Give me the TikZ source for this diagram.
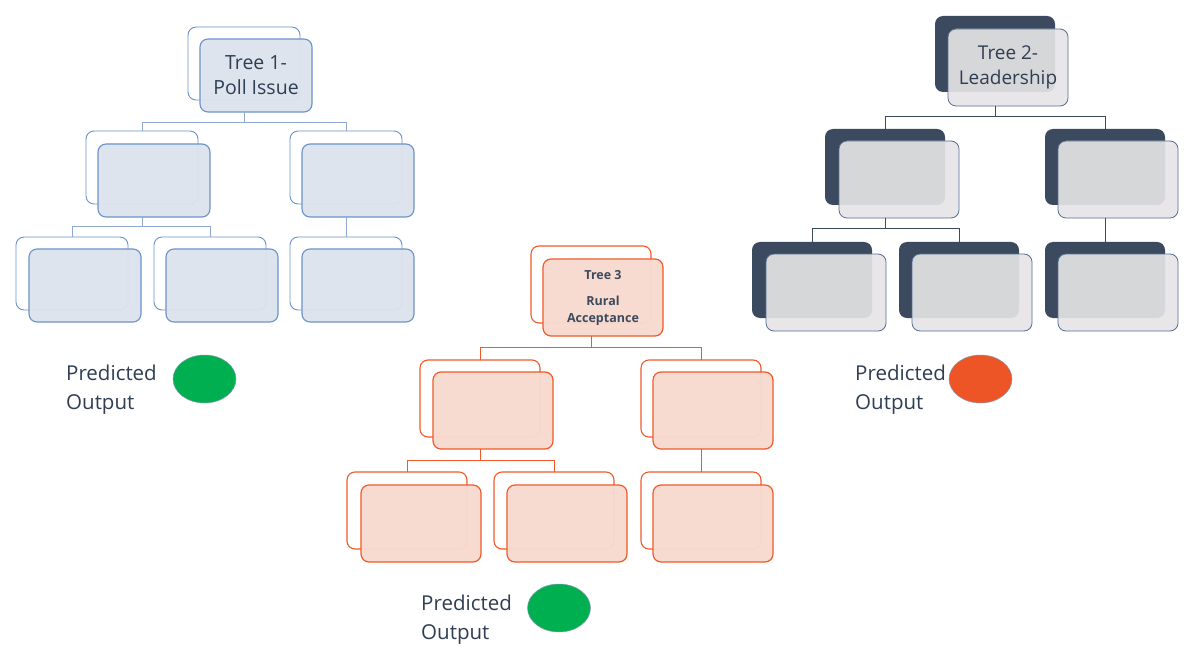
\documentclass[tikz,border=0pt]{standalone}
\usepackage{fontspec}
\setmainfont{Open Sans}
\usetikzlibrary{shapes.geometric}
\definecolor{txt}{HTML}{2F3E52}
\definecolor{oneblue}{HTML}{6A93C9}
\definecolor{onefill}{HTML}{DCE3ED}
\definecolor{onecon}{HTML}{8FAAD2}
\definecolor{threeor}{HTML}{F05A28}
\definecolor{threefill}{HTML}{F8DACF}
\definecolor{twodark}{HTML}{3B4A5E}
\definecolor{twolight}{HTML}{E8E6E9}
\definecolor{twomid}{HTML}{D6D7D9}
\definecolor{twoedge}{HTML}{556E92}
\definecolor{okgreen}{HTML}{00B050}
\definecolor{badorange}{HTML}{EE5526}
\newcommand{\BoxPair}[5]{%
  \node[#1back] (#2b) at (#3) {};
  \node[#1front] (#2f) at (#4) {#5};}
\newcommand{\TwoPair}[3]{%
  \node[twoback] (#1b) at (#2) {};
  \node[twofront] (#1f) at (#3) {};
  \begin{scope}
    \clip[rounded corners=8pt] (#1b.north west) rectangle (#1b.south east);
    \fill[twomid, rounded corners=8pt] (#1f.north west) rectangle (#1f.south east);
  \end{scope}
  \draw[twoedge, line width=0.8pt, rounded corners=8pt] (#1f.north west) rectangle (#1f.south east);}
\tikzset{
  base box/.style={rectangle, rounded corners=8pt, anchor=north west, inner sep=0pt, outer sep=0pt},
  oneback/.style={base box, draw=oneblue, fill=white, line width=0.9pt, minimum width=112pt, minimum height=73pt},
  onefront/.style={base box, draw=oneblue, fill=onefill, fill opacity=0.96, text opacity=1, line width=1.1pt, minimum width=112pt, minimum height=73pt, text=txt, align=center, font=\fontsize{19.5}{25}\selectfont},
  threeback/.style={base box, draw=threeor, fill=white, line width=1.1pt, minimum width=120pt, minimum height=77pt},
  threefront/.style={base box, draw=threeor, fill=threefill, fill opacity=0.97, text opacity=1, line width=1.2pt, minimum width=120pt, minimum height=77pt, text=twodark, align=center, font=\bfseries\fontsize{12.5}{17}\selectfont},
  twoback/.style={base box, fill=twodark, minimum width=120pt, minimum height=76pt},
  twofront/.style={base box, fill=twolight, minimum width=120pt, minimum height=77pt},
  twotext/.style={text=txt, align=center, font=\fontsize{19}{25}\selectfont},
  onecon/.style={draw=onecon, line width=1pt},
  threecon/.style={draw=threeor, line width=1pt},
  twocon/.style={draw=twodark, line width=1pt},
  predlabel/.style={anchor=north west, inner sep=0pt, align=left, text=txt, font=\fontsize{20.5}{29}\selectfont},
  dot/.style={ellipse, minimum width=63pt, minimum height=48pt, inner sep=0pt, draw=twoedge!70, line width=0.5pt},
}
\begin{document}
\begin{tikzpicture}[x=1pt,y=-1pt]
\fill[white] (0,0) rectangle (1198,660);
\useasboundingbox (0,0) rectangle (1198,660);

% ---------------- Tree 1 ----------------
\BoxPair{one}{r1}{188,27}{200,39}{Tree 1-\\Poll Issue}
\BoxPair{one}{a1}{86,131}{98,144}{}
\BoxPair{one}{c1}{290,131}{302,144}{}
\BoxPair{one}{d1}{16,237}{29,249}{}
\BoxPair{one}{e1}{154,237}{166,249}{}
\BoxPair{one}{f1}{290,237}{302,249}{}
\draw[onecon] (r1b.south |- r1f.south) -- ++(0,11) -| (a1b.north);
\draw[onecon] (r1b.south |- r1f.south) -- ++(0,11) -| (c1b.north);
\draw[onecon] (a1b.south |- a1f.south) -- ++(0,10) -| (d1b.north);
\draw[onecon] (a1b.south |- a1f.south) -- ++(0,10) -| (e1b.north);
\draw[onecon] (c1b.south |- c1f.south) -- (f1b.north);

% ---------------- Tree 2 ----------------
\TwoPair{r2}{935,16}{948,29}
\node[twotext] (r2t) at (r2f.center) {Tree 2-\\Leadership};
\TwoPair{a2}{825,129}{839,141}
\TwoPair{c2}{1045,129}{1058,141}
\TwoPair{d2}{752,242}{766,254}
\TwoPair{e2}{899,242}{912,254}
\TwoPair{f2}{1045,242}{1058,254}
\draw[twocon] (r2b.south |- r2f.south) -- ++(0,11) -| (a2b.north);
\draw[twocon] (r2b.south |- r2f.south) -- ++(0,11) -| (c2b.north);
\draw[twocon] (a2b.south |- a2f.south) -- ++(0,11) -| (d2b.north);
\draw[twocon] (a2b.south |- a2f.south) -- ++(0,11) -| (e2b.north);
\draw[twocon] (c2b.south |- c2f.south) -- (f2b.north);

% ---------------- Tree 3 ----------------
\BoxPair{three}{r3}{531,246}{543,259}{Tree 3\\[9pt]Rural\\Acceptance}
\BoxPair{three}{a3}{420,360}{433,372}{}
\BoxPair{three}{c3}{641,360}{653,372}{}
\BoxPair{three}{d3}{347,472}{361,485}{}
\BoxPair{three}{e3}{494,472}{507,485}{}
\BoxPair{three}{f3}{641,472}{653,485}{}
\draw[threecon] (r3b.south |- r3f.south) -- ++(0,11) -| (a3b.north);
\draw[threecon] (r3b.south |- r3f.south) -- ++(0,11) -| (c3b.north);
\draw[threecon] (a3b.south |- a3f.south) -- ++(0,11) -| (d3b.north);
\draw[threecon] (a3b.south |- a3f.south) -- ++(0,11) -| (e3b.north);
\draw[threecon] (c3b.south |- c3f.south) -- (f3b.north);

% ---------------- Predicted outputs ----------------
\node[predlabel] (p1) at (66,365) {Predicted\\Output};
\node[dot, fill=okgreen] (o1) at (204.5,379) {};
\node[predlabel] (p2) at (855,365) {Predicted\\Output};
\node[dot, fill=badorange] (o2) at (980.5,379) {};
\node[predlabel] (p3) at (421,595) {Predicted\\Output};
\node[dot, fill=okgreen] (o3) at (559,608) {};
\end{tikzpicture}
\end{document}
